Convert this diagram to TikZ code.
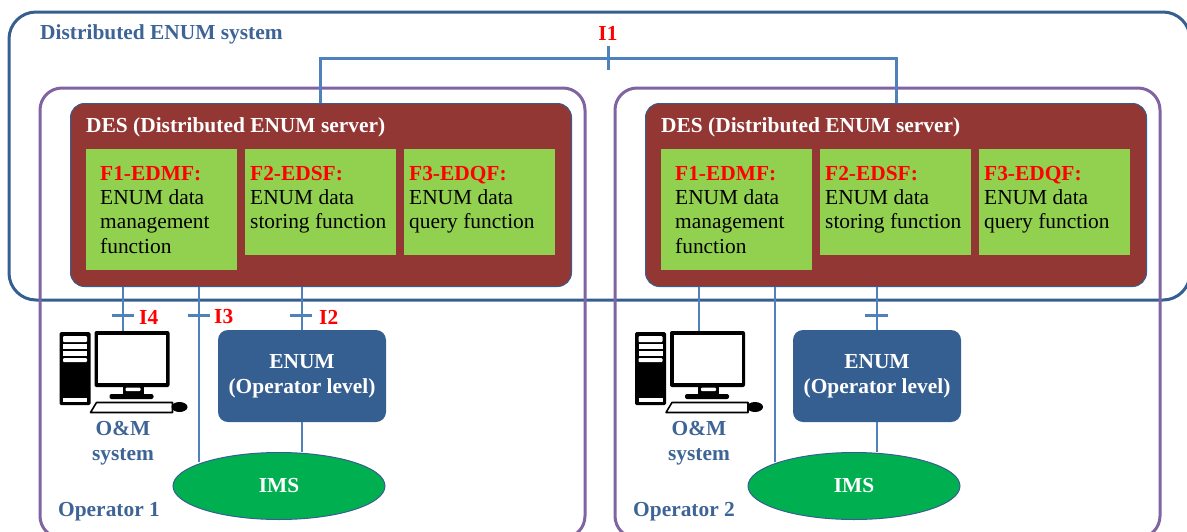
\documentclass[tikz,border=0pt]{standalone}
\usepackage{fontspec}
\setmainfont{Liberation Serif}
\usetikzlibrary{shapes.geometric}
\definecolor{frameblue}{RGB}{54,95,145}
\definecolor{linkblue}{RGB}{79,129,189}
\definecolor{opviolet}{RGB}{128,100,162}
\definecolor{desred}{RGB}{147,55,52}
\definecolor{fngreen}{RGB}{146,208,80}
\definecolor{imsgreen}{RGB}{0,176,80}
\definecolor{textblue}{RGB}{62,100,150}
\tikzset{
  x=1pt,y=-1pt,
  outerframe/.style={draw=frameblue,line width=3pt,rounded corners=27pt},
  opframe/.style={draw=opviolet,line width=3pt,rounded corners=22pt},
  desbox/.style={draw=frameblue,line width=1pt,fill=desred,rounded corners=14pt},
  fnbox/.style={fill=fngreen,inner sep=0pt},
  enumbox/.style={fill=frameblue,rounded corners=10pt,inner sep=0pt,minimum width=168pt,minimum height=92pt,align=center,text=white,font=\fontsize{21.4}{25}\selectfont\bfseries},
  imsell/.style={ellipse,draw=frameblue,line width=1pt,fill=imsgreen,inner sep=0pt,minimum width=212pt,minimum height=67pt,text=white,font=\fontsize{21.4}{23}\selectfont\bfseries},
  thinlink/.style={draw=linkblue,line width=1.5pt},
  thicklink/.style={draw=linkblue,line width=3pt},
  barmark/.style={draw=linkblue,line width=3pt},
  title/.style={anchor=west,inner sep=0pt,text=textblue,font=\fontsize{21.4}{23}\selectfont\bfseries},
  destitle/.style={anchor=west,inner sep=0pt,text=white,font=\fontsize{21.4}{23}\selectfont\bfseries},
  fntext/.style={anchor=north west,inner sep=0pt,align=left,font=\fontsize{21.4}{24.3}\selectfont},
  ilabel/.style={anchor=west,inner sep=0pt,text=red,font=\fontsize{21.4}{23}\selectfont\bfseries},
  omtext/.style={inner sep=0pt,align=center,text=textblue,font=\fontsize{21.4}{25}\selectfont\bfseries},
  blk/.style={fill=black},
  wht/.style={fill=white}
}
\newcommand{\fnhead}[1]{{\color{red}\bfseries #1}}
\newcommand{\pcicon}[1]{%
  \begin{scope}[shift={(#1,0)}]
    \fill[blk,rounded corners=1.5pt] (0,332) rectangle (31,405);
    \fill[wht,rounded corners=1pt] (3.5,336) rectangle (27.5,342);
    \fill[wht] (3.5,344) rectangle (27.5,349);
    \fill[wht] (3.5,351) rectangle (27.5,356);
    \fill[wht,rounded corners=1pt] (3.5,358) rectangle (27.5,362);
    \fill[wht] (3.5,398) rectangle (27.5,402);
    \fill[blk,rounded corners=2pt] (35,331) rectangle (110,387);
    \fill[wht] (38.5,334.5) rectangle (106.5,383);
    \fill[blk] (63,387) rectangle (84,396);
    \fill[wht,rounded corners=1pt] (66,387.5) rectangle (81,391);
    \fill[blk,rounded corners=2pt] (50,394) rectangle (94,399);
    \filldraw[fill=white,draw=black,line width=1.6pt,line join=round] (37,402.5) -- (31,412.5) -- (113,412.5) -- (113,402.5) -- cycle;
    \fill[blk] (120,407) ellipse [x radius=8pt,y radius=5pt];
  \end{scope}}
\begin{document}
\begin{tikzpicture}
\useasboundingbox (0,0) rectangle (1187,531);
\draw[outerframe] (9,300) rectangle (1190,12);
\draw[opframe] (40,538) rectangle (585,88);
\draw[opframe] (615,538) rectangle (1160,88);
\node[title] (systitle) at (40,34) {Distributed ENUM system};
% DES
\node[desbox,minimum width=501pt,minimum height=183pt,inner sep=0pt,anchor=north west] (des1) at (70,103) {};
\node[desbox,minimum width=501pt,minimum height=183pt,inner sep=0pt,anchor=north west] (des2) at (645,103) {};
\node[destitle] (des1t) at (86,127) {DES (Distributed ENUM server)};
\node[destitle] (des2t) at (661,127) {DES (Distributed ENUM server)};
% function boxes
\foreach \o/\dx in {a/0,b/575}{
  \node[fnbox,anchor=north west,minimum width=151pt,minimum height=121pt] (f1\o) at (86+\dx,149) {};
  \node[fnbox,anchor=north west,minimum width=151pt,minimum height=106pt] (f2\o) at (245+\dx,149) {};
  \node[fnbox,anchor=north west,minimum width=151pt,minimum height=106pt] (f3\o) at (404+\dx,149) {};
  \node[fntext] at (100+\dx,166) {\fnhead{F1-EDMF:}\\ENUM data\\management\\function};
  \node[fntext] at (250+\dx,166) {\fnhead{F2-EDSF:}\\ENUM data\\storing function};
  \node[fntext] at (409+\dx,166) {\fnhead{F3-EDQF:}\\ENUM data\\query function};
}
% I1
\coordinate (i1a) at (320,58);
\coordinate (i1b) at (896,58);
\draw[thicklink] (des1.north -| i1a) -- (i1a) -- (i1b) -- (des2.north -| i1b);
\draw[barmark] (608,46) -- (608,70);
\node[ilabel,anchor=center] (i1l) at (608,33) {I1};
% ENUM and IMS
\node[enumbox] (enum1) at (302,376) {ENUM\\(Operator level)};
\node[enumbox] (enum2) at (877,376) {ENUM\\(Operator level)};
\node[imsell] (ims1) at (279,486) {IMS};
\node[imsell] (ims2) at (854,486) {IMS};
\coordinate (pc1) at (123,331);
\coordinate (pc2) at (699,331);
% connectors
\draw[thinlink] (des1.south -| pc1) -- (pc1);
\draw[thinlink] (des2.south -| pc2) -- (pc2);
\draw[thinlink] (des1.south -| 199,0) -- (199,462);
\draw[thinlink] (des2.south -| 775,0) -- (775,462);
\draw[thinlink] (des1.south -| enum1.north) -- (enum1.north);
\draw[thinlink] (des2.south -| enum2.north) -- (enum2.north);
\draw[thinlink] (enum1.south) -- (enum1.south |- ims1.north);
\draw[thinlink] (enum2.south) -- (enum2.south |- ims2.north);
% bars
\draw[barmark] (112,315) -- (134,315);
\draw[barmark] (188,315) -- (210,315);
\draw[barmark] (290,315) -- (312,315);
\draw[barmark] (865,315) -- (888,315);
\node[ilabel] (i4) at (139,317) {I4};
\node[ilabel] (i3) at (214,317) {I3};
\node[ilabel] (i2) at (319,317) {I2};
% computers
\pcicon{59.5}
\pcicon{635}
\node[omtext] (om1) at (123,443.5) {O\&M\\system};
\node[omtext] (om2) at (699,443.5) {O\&M\\system};
\node[title] (op1) at (58,512) {Operator 1};
\node[title] (op2) at (633,512) {Operator 2};
\end{tikzpicture}
\end{document}
